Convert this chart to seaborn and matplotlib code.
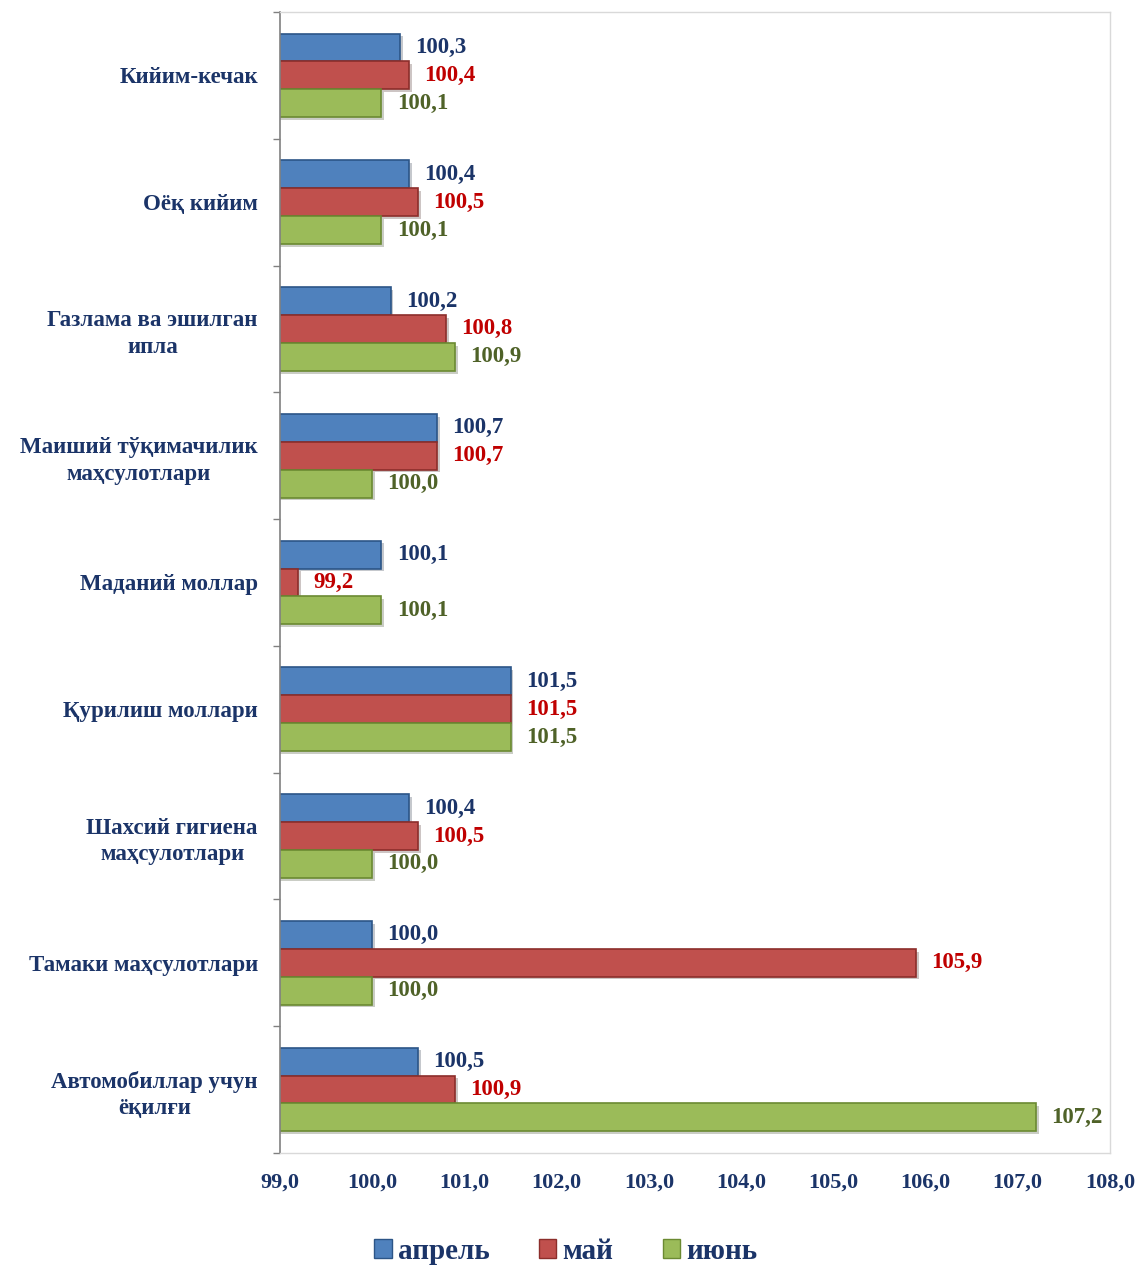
import pandas as pd
import numpy as np
import matplotlib
matplotlib.use('Agg')
import matplotlib.pyplot as plt
import matplotlib.patheffects as pe
from matplotlib.patches import Patch
import seaborn as sns

categories = ['Кийим-кечак', 'Оёқ кийим', 'Газлама ва эшилган\nипла',
              'Маиший тўқимачилик\nмаҳсулотлари', 'Маданий моллар', 'Қурилиш моллари',
              'Шахсий гигиена\nмаҳсулотлари', 'Тамаки маҳсулотлари',
              'Автомобиллар учун\nёқилғи']
months = ['апрель', 'май', 'июнь']
april = [100.3, 100.4, 100.2, 100.7, 100.1, 101.5, 100.4, 100.0, 100.5]
may = [100.4, 100.5, 100.8, 100.7, 99.2, 101.5, 100.5, 105.9, 100.9]
june = [100.1, 100.1, 100.9, 100.0, 100.1, 101.5, 100.0, 100.0, 107.2]
x_ticks = [99, 100, 101, 102, 103, 104, 105, 106, 107, 108]

bar_colors = ['#4F81BD', '#C0504D', '#9BBB59']
edge_colors = ['#2C5587', '#8C2E2B', '#6B8A32']
label_colors = ['#1B3468', '#C00000', '#4F6228']
navy = '#1B3468'

df = pd.DataFrame({
    'category': categories * 3,
    'month': [m for m in months for _ in categories],
    'value': april + may + june,
})

sns.set_style('white')
plt.rcParams['font.family'] = ['Liberation Serif', 'DejaVu Serif']
plt.rcParams['font.weight'] = 'bold'

fig = plt.figure(figsize=(11.36, 12.72), dpi=100)
ax = fig.add_axes([0.2465, 0.0936, 0.7305, 0.897])

sns.barplot(data=df, y='category', x='value', hue='month', hue_order=months,
            palette=bar_colors, saturation=1, orient='h', width=0.66, ax=ax, legend=False)

for cont, ec, lc in zip(ax.containers, edge_colors, label_colors):
    for bar in cont:
        bar.set_edgecolor(ec)
        bar.set_linewidth(1.2)
        bar.set_path_effects([pe.SimplePatchShadow(offset=(2, -2), alpha=0.25), pe.Normal()])
    labels = [f'{v:.1f}'.replace('.', ',') for v in cont.datavalues]
    ax.bar_label(cont, labels=labels, padding=11, color=lc, fontsize=16.5, fontweight='bold')

ax.set_xlim(99, 108)
ax.set_xticks(x_ticks)
ax.set_xticklabels([f'{t:.1f}'.replace('.', ',') for t in x_ticks])
ax.set_ylim(len(categories) - 0.5, -0.5)
ax.set_xlabel('')
ax.set_ylabel('')

ax.tick_params(axis='x', length=0, pad=14, labelsize=16, labelcolor=navy)
ax.tick_params(axis='y', which='major', length=0, pad=16, labelsize=16.5, labelcolor=navy)
for lbl in ax.get_yticklabels():
    lbl.set_multialignment('center')
    lbl.set_linespacing(1.35)
    lbl.set_fontweight('bold')
for lbl in ax.get_xticklabels():
    lbl.set_fontweight('bold')
ax.set_yticks(np.arange(-0.5, len(categories), 1.0), minor=True)
ax.tick_params(axis='y', which='minor', left=True, length=5, width=1, color='#808080', direction='out')

for side in ['top', 'right', 'bottom']:
    ax.spines[side].set_color('#D9D9D9')
    ax.spines[side].set_linewidth(1)
ax.spines['left'].set_color('#808080')
ax.spines['left'].set_linewidth(1.2)

handles = [Patch(facecolor=c, edgecolor=e, label=m) for c, e, m in zip(bar_colors, edge_colors, months)]
fig.legend(handles=handles, loc='lower center', bbox_to_anchor=(0.498, -0.015), ncol=3,
           frameon=False, handlelength=0.6, handleheight=0.6,
           handletextpad=0.2, columnspacing=1.7, labelcolor=navy,
           prop={'family': 'Liberation Serif', 'weight': 'bold', 'size': 21})

fig.savefig('out.png', dpi=100)
